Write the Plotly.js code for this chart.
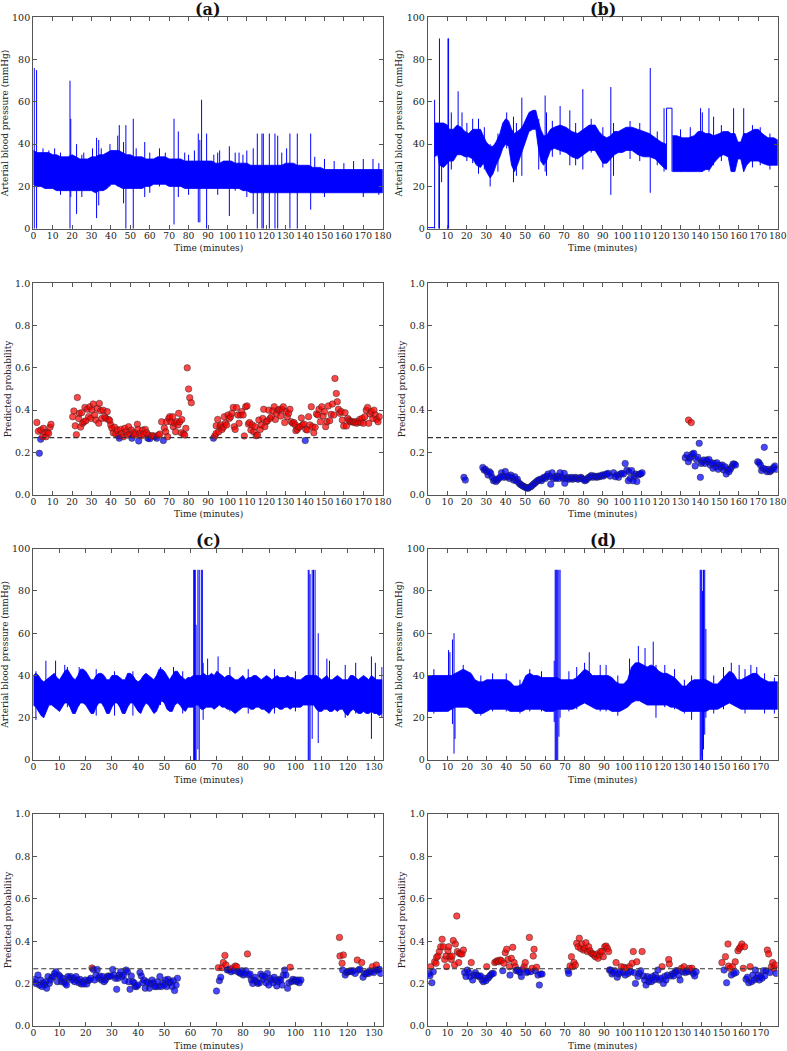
<!DOCTYPE html>
<html><head><meta charset="utf-8">
<script src="https://cdn.plot.ly/plotly-3.0.1.min.js"></script>
<style>html,body{margin:0;padding:0;background:#fff}#chart{width:787px;height:1051px}</style>
</head><body><div id="chart"></div>
<script>
// ---------------- DATA ----------------
const THRESH = 0.27;
const panelTitles = ["(a)", "(b)", "(c)", "(d)"];
const xTitle = "Time (minutes)";
const yTitleABP = "Arterial blood pressure (mmHg)";
const yTitleProb = "Predicted probability";
const xRangeA = 180, xRangeB = 180, xRangeC = 133.3, xRangeD = 178.7;

// ABP envelope, panel (a)
const tA = [0,2,4,6,8,10,12,14,16,18,20,22,24,26,28,30,32,34,36,38,40,42,44,46,48,50,52,54,56,58,60,62,64,66,68,70,72,74,76,78,80,82,84,86,88,90,92,94,96,98,100,102,104,106,108,110,112,114,116,118,120,122,124,126,128,130,132,134,136,138,140,142,144,146,148,150,152,154,156,158,160,162,164,166,168,170,172,174,176,178,180];
const hiA = [37,36,36,36,36,35,35,34,34,34,35,34,33,33,33,34,34,35,35,36,37,37,37,36,35,35,34,34,34,33,33,33,34,34,34,33,33,33,33,32,32,32,32,32,32,32,32,31,31,32,32,32,31,31,31,31,30,30,30,30,30,30,30,30,30,31,31,31,30,30,30,30,29,29,29,28,28,28,28,28,28,28,28,28,28,28,28,28,28,28,28];
const loA = [21,20,20,19,19,19,18,18,18,18,18,18,18,18,18,18,17,18,18,19,21,21,20,19,19,19,19,19,19,20,20,21,21,21,21,20,20,20,20,19,19,19,19,19,19,19,19,19,19,19,19,19,19,19,18,18,17,17,17,17,17,17,17,17,17,17,17,17,17,17,17,17,17,17,17,17,17,17,17,17,17,17,17,17,17,17,17,17,17,17,17];
const spikeA = [[0.5,76,0],[1.7,75,0],[5,38,25],[8,37,25],[11,38,19],[14,36,16],[18.9,70,0],[19.3,52,15],[22.3,40,7],[25,35,15],[26,36,25],[30.5,38,20],[32.6,43,5],[33.7,42,11],[35,38,25],[39.5,40,20],[43.5,44,20],[44.3,49,20],[46.5,41,12],[47.7,49,0],[51.5,52,0],[53,38,25],[57.4,41,15],[60,36,17],[65,38,20],[68,36,25],[72.5,52,2],[74.7,46,15],[78,36,25],[80,35,16],[83,37,25],[85,45,3],[85.8,42,3],[86.7,61,22],[89.3,45,0],[93,35,25],[95,36,16],[96,37,25],[101,39,6],[104,36,18],[106,36,25],[108,35,25],[110,37,15],[113.3,38,7],[115.4,45,0],[117.8,45,0],[118.5,45,0],[121.6,45,0],[124.5,45,0],[125.9,44,0],[128,36,25],[130.5,38,18],[132.2,45,0],[136,45,0],[142.9,45,9],[145,34,22],[150,33,15],[155,32,22],[160,31,17],[165,32,22],[170,33,15],[175,33,22],[178,31,16]];
const flatA = [];

// ABP envelope, panel (b)
const tB  = [3.3,5,6,8,10,11,13,15,17,19,21,23,25,27,28.5,30,32,33.5,35,37,38.5,40,41.5,43,44.5,46,47.5,49,50.5,52,54,55.5,56.5,58,59.5,61,63,65,68,71,74,77,80,83,86,88,90,92,94,96,98,100,102,105,108,111,114,117,120,122.5,null,125.8,128,131,134,137,139,141,143,145,147,150,152,154.5,156,158,159.5,161,162.5,164,166,168,170,172,175,178,180];
const hiB = [50,50,50,50,49,47,47,49,48,46,45,47,47,47,44,41,39,39,41,45,50,52,51,47,45,46,47,49,52,55,56,56,52,47,44,44,47,48,49,48,46,45,47,49,49,46,44,43,44,46,46,47,48,48,47,46,45,43,41,40,null,44,44,43,43,44,46,46,45,45,44,45,46,46,45,45,41,41,45,45,46,47,47,45,43,43,42];
const loB = [34,35,30,29,31,32,32,35,35,34,34,33,30,29,31,27,24,26,30,34,38,40,39,30,27,30,33,38,42,46,47,47,40,32,30,32,37,38,37,36,34,33,35,37,37,34,31,31,33,35,36,36,37,37,35,34,34,33,30,28,null,27,27,27,27,27,27,27,28,28,31,34,35,34,27,27,33,33,27,30,32,32,32,31,30,30,30];
const spikeB = [[3.4,61,0],[5.6,45,0],[5.9,90,0],[7,40,22],[10.3,90,0],[10.6,90,0],[12,55,28],[15.5,65,35],[17.5,55,35],[20,50,32],[23,52,31],[26,52,26],[29,48,28],[32,40,20],[36,45,27],[40.5,55,38],[44,53,22],[45.5,50,25],[48.3,62,25],[57,52,28],[60.3,63,27],[61,55,25],[64,51,34],[68,58,35],[73,56,30],[76,50,30],[79.7,66,28],[84,52,36],[90,48,29],[94.1,67,16],[95.5,50,25],[104,51,33],[109,50,32],[114.4,76,17],[118,46,30],[121.5,57,27],[122.8,57,28],[125.6,57,27],[130,47,27],[135,48,27],[140.3,57,27],[141.2,55,27],[144.6,57,27],[147,53,30],[151,49,32],[157.3,57,27],[162.5,57,27],[167,49,29],[171,48,30],[176,45,28]];
const flatB = [[0,3.4,0.5],[122.8,125.6,57]];

// ABP envelope, panel (c)
const tC = [];
for (let i = 0; i <= 133; i++) tC.push(i);
const hiC = [40,41,40,38,37,38,39,40,41,39,38,40,42,43,41,39,38,40,43,43,42,40,38,38,40,41,41,40,38,38,40,40,40,39,38,38,41,41,40,38,37,38,40,41,40,39,38,40,43,43,42,40,38,40,42,42,40,39,38,39,39,40,40,40,40,41,40,40,41,40,42,41,40,39,40,40,39,38,38,39,40,38,39,39,40,40,39,38,39,40,39,38,39,40,39,39,39,40,39,39,38,38,38,39,40,40,40,40,40,39,38,39,40,38,38,39,40,39,38,38,38,40,40,39,38,39,40,39,38,40,39,38,38,38];
const loC = [26,25,23,21,20,23,26,26,25,24,23,25,27,27,25,22,22,25,27,27,26,24,22,22,25,27,27,25,22,22,25,27,27,25,22,22,25,27,27,25,23,22,25,27,26,24,22,23,26,28,27,24,23,23,26,27,26,24,23,25,25,25,26,26,24,24,25,25,25,24,25,26,25,25,24,24,23,22,23,24,25,25,25,24,24,25,25,24,24,23,22,24,25,25,24,24,25,25,24,25,25,25,25,26,26,26,26,26,24,23,23,24,24,23,23,24,23,24,24,22,21,23,24,23,22,22,23,22,22,23,22,22,21,22];
const spikeC = [[1,42,19],[4.8,47,24],[8.5,47,25],[12,45,27],[13,44,25],[17.5,44,26],[24,43,21],[31,42,21],[38,42,21],[48.5,44,26],[53.5,44,26],[57,42,22],[61.2,90,0],[61.5,90,0],[61.8,90,0],[62.1,64,0],[62.8,90,5],[63.3,90,0],[64.1,90,30],[64.5,90,40],[64.8,46,19],[66.5,48,28],[70.5,49,28],[75,44,23],[82,43,22],[92,43,22],[100,42,23],[104.9,90,0],[105.2,90,0],[105.6,88,0],[106.4,90,10],[106.9,90,30],[107.5,90,40],[108.7,60,8],[112,48,25],[113,47,25],[119,45,20],[123,46,22],[129,49,10],[130.5,46,22],[133,44,20]];
const flatC = [];

// ABP envelope, panel (d)
const tD = [0,2,4,6,8,10,12,14,16,18,20,22,24,26,28,30,32,34,36,38,40,42,44,46,48,50,52,54,56,58,60,62,64,66,68,70,72,74,76,78,80,82,84,86,88,90,92,94,96,98,100,102,104,106,108,110,112,114,116,118,120,122,124,126,128,130,132,134,136,138,140,142,144,146,148,150,152,154,156,158,160,162,164,166,168,170,172,174,176,178,178.7];
const hiD = [40,40,40,40,40,40,40,41,42,43,42,41,38,37,37,38,38,38,38,38,38,37,35,35,36,40,41,40,40,39,39,39,39,39,38,38,38,38,39,41,43,42,40,40,40,40,40,39,37,36,36,38,44,46,46,45,44,45,44,42,41,41,40,39,37,35,35,37,38,38,38,38,37,36,36,38,40,42,41,38,38,39,40,41,41,39,38,37,37,37,37];
const loD = [23,23,23,23,23,23,24,25,25,25,25,24,22,22,22,23,24,24,24,24,24,23,23,23,23,24,24,24,24,24,23,23,23,24,24,24,24,24,25,26,27,26,25,24,24,24,24,23,23,23,24,25,27,28,28,27,26,26,26,26,26,26,25,25,24,23,23,23,23,23,23,23,24,24,24,25,26,27,26,25,24,24,24,24,24,24,24,24,24,24,24];
const spikeD = [[3,43,22],[10.5,52,23],[11.2,51,25],[12.5,57,17],[13.3,60,3],[13.8,40,10],[18,45,25],[27,40,21],[33,41,23],[40,41,23],[47,38,22],[52,43,23],[58,42,23],[64.5,47,18],[65,90,0],[65.4,90,0],[65.8,90,0],[66.3,90,0],[66.9,90,11],[67.5,90,20],[72,42,23],[76,44,24],[80,46,27],[82.4,51,27],[88,45,23],[91,45,23],[97,40,21],[103,48,27],[107.5,54,28],[110.9,53,27],[115.1,56,27],[116.5,45,20],[121,45,25],[126,43,24],[131,38,22],[134.7,40,19],[139.1,90,0],[139.5,90,0],[139.9,90,0],[140.3,80,0],[140.8,90,5],[141.4,90,12],[142,62,20],[146,40,22],[151,44,24],[155,46,27],[159,45,25],[162,43,22],[165,45,26],[168,44,26],[172,41,22],[177,39,22]];
const flatD = [];

// Predicted probability, panel (a)
const probTA = [1.8,2.6,3.1,3.8,3.8,4.8,5.2,6.0,6.5,7.2,7.9,8.6,9.1,20.3,20.9,21.6,22.2,22.7,23.4,23.7,24.4,24.9,25.4,26.1,26.6,27.1,27.8,28.5,29.2,29.6,30.2,30.9,31.6,32.2,33.0,33.7,34.0,34.7,35.3,36.0,36.8,37.4,38.1,38.8,39.4,39.9,40.5,41.2,41.9,42.5,43.3,44.0,44.3,45.0,45.6,46.4,47.1,47.7,48.4,49.1,49.7,50.5,50.8,51.5,52.2,52.8,53.6,53.9,54.3,54.9,55.6,56.3,57.0,57.7,58.4,59.0,59.4,60.0,61.0,61.8,62.6,63.6,64.4,65.2,66.1,67.0,67.5,68.2,68.7,69.2,69.8,70.3,70.9,71.8,72.1,72.8,73.3,73.9,74.5,74.9,75.5,76.2,76.5,77.3,78.0,78.6,79.3,80.0,80.6,81.4,
 92.8,93.5,94.2,94.2,95.0,95.5,96.2,96.7,97.2,97.9,98.4,98.9,99.6,100.3,101.0,101.6,102.3,103.0,103.5,104.0,104.7,105.4,106.0,106.7,107.4,108.1,108.7,109.4,110.1,110.8,111.4,112.1,112.8,113.5,114.2,114.8,115.5,116.2,116.9,117.5,118.2,118.7,119.3,120.0,120.6,121.3,122.0,122.7,123.4,124.1,124.7,125.4,126.1,126.8,127.5,128.1,128.8,129.5,130.2,130.9,131.5,132.2,132.9,133.6,134.3,135.0,135.3,136.0,136.7,137.4,138.1,138.7,139.4,140.1,140.4,141.1,141.8,142.5,143.2,143.8,144.5,145.2,145.9,146.6,147.2,147.9,148.6,149.3,150.0,150.6,151.3,152.0,152.7,153.4,154.1,154.8,155.4,156.1,156.6,157.2,157.9,158.6,159.2,159.9,160.6,161.3,162.0,162.6,163.3,164.0,164.7,165.4,166.0,166.7,167.4,168.1,168.8,169.4,170.1,170.8,171.5,172.2,172.8,173.5,174.2,174.9,175.5,176.2,176.9,177.6,178.3];
const probVA = [.342,.300,.196,.262,.306,.274,.314,.293,.274,.295,.290,.319,.333,.369,.396,.326,.284,.460,.360,.385,.320,.388,.338,.345,.413,.350,.404,.369,.416,.361,.400,.429,.377,.353,.408,.338,.432,.397,.361,.400,.369,.361,.393,.356,.350,.330,.314,.293,.319,.287,.306,.278,.267,.309,.290,.274,.314,.298,.282,.322,.287,.306,.267,.293,.282,.290,.333,.309,.254,.290,.278,.306,.287,.309,.293,.267,.282,.265,.278,.279,.274,.267,.282,.287,.345,.256,.315,.298,.345,.274,.361,.369,.345,.369,.322,.338,.298,.345,.330,.385,.345,.293,.356,.287,.282,.314,.600,.500,.459,.435,
 .267,.278,.290,.326,.356,.298,.322,.330,.309,.319,.369,.338,.330,.377,.361,.369,.385,.413,.322,.309,.412,.377,.338,.377,.393,.377,.278,.416,.420,.334,.341,.306,.330,.298,.322,.279,.282,.353,.309,.330,.361,.404,.322,.345,.350,.400,.361,.369,.397,.416,.356,.385,.400,.404,.372,.404,.416,.341,.393,.369,.385,.404,.345,.338,.341,.330,.303,.309,.319,.322,.363,.330,.334,.256,.309,.306,.369,.330,.416,.322,.293,.319,.382,.377,.404,.345,.416,.372,.393,.322,.345,.420,.350,.380,.429,.377,.550,.479,.440,.404,.385,.393,.353,.325,.388,.325,.361,.353,.345,.345,.345,.341,.345,.338,.345,.356,.341,.361,.338,.369,.400,.413,.338,.382,.393,.361,.400,.377,.356,.345,.369];

// Predicted probability, panel (b)
const probTB = [18.5,19.2,28.2,28.9,29.5,30.2,30.9,31.6,32.3,33.0,33.7,34.3,35.0,35.7,36.4,37.1,37.8,38.5,39.2,39.8,40.5,41.2,41.9,42.6,43.3,44.0,44.7,45.3,46.0,46.7,47.4,48.1,48.8,49.5,50.1,50.8,51.5,52.2,52.9,53.6,54.3,54.9,55.6,56.3,57.0,57.7,58.4,59.1,59.7,60.4,61.1,61.8,62.5,63.2,63.9,64.5,65.2,65.9,66.6,67.3,68.0,68.7,69.4,70.1,70.4,71.1,71.8,72.5,73.2,73.9,74.5,75.2,75.9,76.6,77.3,78.0,78.7,79.3,80.0,80.7,81.4,82.1,82.8,83.5,84.1,84.8,85.5,86.2,86.9,87.6,88.3,88.9,89.6,90.3,91.0,92.0,92.7,93.8,95.5,96.4,97.2,98.1,99.0,99.8,100.6,101.5,102.4,103.1,103.4,104.1,104.8,105.5,106.1,106.8,107.5,108.2,108.9,109.5,110.2,
 132.4,133.3,134.0,134.1,134.7,135.4,135.5,136.1,136.8,137.5,138.2,138.9,139.6,140.2,140.6,141.2,141.9,142.6,143.3,144.0,144.6,145.3,146.0,146.7,147.4,148.1,148.7,149.4,150.1,150.8,151.5,152.2,152.9,153.5,154.2,154.9,155.6,156.3,157.0,157.7,158.3,
 169.7,170.4,171.1,171.7,172.4,173.1,173.8,174.5,175.2,175.9,176.6,177.2,177.9,178.6,179.3];
const probVB = [.082,.069,.129,.117,.120,.110,.093,.109,.101,.082,.066,.073,.062,.069,.077,.082,.104,.088,.082,.110,.085,.088,.077,.093,.082,.069,.085,.066,.073,.057,.050,.046,.041,.038,.035,.032,.030,.035,.038,.044,.050,.054,.060,.066,.069,.073,.066,.077,.082,.077,.088,.098,.085,.050,.104,.077,.085,.077,.088,.077,.104,.085,.077,.101,.054,.077,.082,.073,.077,.082,.073,.077,.082,.077,.073,.079,.082,.077,.073,.066,.069,.077,.082,.085,.091,.082,.088,.085,.082,.088,.085,.088,.093,.088,.095,.098,.101,.088,.104,.085,.093,.082,.098,.101,.098,.148,.117,.066,.109,.077,.114,.066,.088,.098,.062,.093,.098,.098,.104,
 .175,.188,.156,.353,.172,.180,.341,.192,.196,.136,.167,.177,.243,.082,.148,.156,.164,.148,.164,.156,.167,.140,.151,.125,.148,.132,.151,.120,.140,.129,.140,.117,.132,.098,.120,.109,.120,.132,.145,.145,.140,
 .156,.151,.140,.114,.125,.224,.120,.109,.120,.109,.114,.120,.129,.136,.120];

// Predicted probability, panel (c)
const probTC = [0.0,0.5,1.0,1.8,2.3,2.8,3.3,3.8,4.3,4.8,5.1,5.6,6.1,6.6,7.1,7.6,8.1,8.7,9.2,9.7,10.2,10.7,11.2,11.7,12.2,12.7,13.2,13.7,14.2,14.8,15.3,15.8,16.3,16.8,17.3,17.8,18.3,18.8,19.3,19.8,20.4,20.9,21.4,21.9,22.4,22.9,23.4,23.9,24.4,24.9,25.4,26.0,26.5,27.0,27.5,28.0,28.5,29.0,29.5,30.3,30.8,31.3,31.8,32.3,32.8,33.3,33.8,34.4,34.9,35.4,35.9,36.4,36.9,37.4,37.9,38.4,38.9,39.4,39.9,40.7,41.2,41.7,42.2,42.7,43.3,43.8,44.3,44.8,45.3,45.8,46.3,46.8,47.3,47.8,48.3,48.9,49.4,49.9,50.4,50.9,51.4,51.9,52.4,52.9,53.4,53.9,54.5,55.0,
 69.9,70.6,71.0,71.5,72.0,72.5,73.1,73.5,74.0,74.5,75.0,75.5,76.0,76.6,77.1,77.6,78.1,78.6,79.1,79.6,80.1,80.6,81.1,81.7,82.2,82.7,83.2,83.7,84.2,84.7,85.2,85.7,86.3,86.8,87.3,87.8,88.3,88.8,89.3,89.8,90.3,90.8,91.4,91.9,92.4,92.9,93.4,93.9,94.4,94.9,95.4,95.9,96.4,97.0,97.5,98.0,98.5,99.0,99.5,100.0,100.5,101.0,101.5,102.1,
 116.8,117.0,117.8,118.3,118.0,119.0,119.5,120.0,120.5,121.0,121.5,122.0,122.8,123.6,124.1,124.6,125.3,125.8,126.3,126.8,127.4,127.9,128.4,128.9,129.4,129.9,130.4,130.9,131.4,132.0,132.5];
const probVC = [.209,.220,.201,.240,.193,.217,.186,.204,.193,.209,.178,.233,.201,.217,.230,.233,.248,.256,.209,.240,.233,.209,.225,.209,.201,.193,.233,.225,.233,.217,.225,.209,.233,.217,.204,.220,.198,.209,.198,.217,.198,.214,.217,.225,.274,.267,.217,.240,.267,.225,.236,.217,.233,.209,.217,.230,.236,.233,.236,.267,.240,.225,.173,.225,.240,.256,.233,.240,.214,.264,.256,.209,.173,.236,.209,.204,.186,.186,.193,.252,.236,.204,.217,.178,.209,.204,.178,.198,.217,.204,.186,.186,.209,.186,.233,.186,.204,.193,.217,.186,.220,.204,.209,.186,.214,.167,.193,.225,
 .165,.275,.214,.230,.275,.300,.333,.288,.264,.265,.267,.256,.274,.261,.283,.280,.256,.252,.248,.261,.240,.248,.261,.340,.240,.245,.217,.201,.217,.230,.209,.201,.204,.245,.236,.220,.233,.204,.248,.193,.225,.217,.204,.230,.217,.189,.209,.220,.217,.193,.240,.264,.240,.178,.204,.277,.209,.220,.214,.217,.209,.217,.204,.217,
 .418,.330,.296,.335,.264,.240,.252,.256,.256,.261,.256,.261,.248,.311,.264,.268,.299,.230,.248,.245,.252,.248,.261,.256,.280,.252,.264,.288,.264,.268,.248];

// Predicted probability, panel (d)
const probTD = [0.7,1.0,1.4,2.0,2.7,3.4,4.1,4.4,5.1,5.8,6.5,7.2,7.8,8.5,9.2,9.5,10.2,10.6,11.2,11.9,12.3,12.9,13.6,14.0,14.7,15.0,15.7,16.0,16.7,17.4,18.1,18.7,19.4,20.1,20.8,21.5,22.1,22.8,23.5,24.2,24.9,25.6,26.2,26.9,27.6,28.3,29.0,29.6,30.0,30.7,31.3,32.0,32.7,33.4,34.1,34.8,35.4,36.1,36.8,37.5,38.2,38.8,39.5,40.2,40.9,41.6,41.9,42.6,43.3,44.0,44.6,45.0,45.7,46.3,47.0,47.7,48.4,49.1,49.7,50.4,51.1,51.8,52.5,53.2,53.8,54.2,54.9,55.5,56.2,56.9,57.6,58.3,
 71.6,71.9,72.6,73.3,73.9,74.6,75.3,76.0,76.7,77.3,78.0,78.7,79.4,80.1,80.7,81.4,82.1,82.8,83.5,84.2,84.8,85.5,86.2,86.9,87.6,88.2,88.9,89.6,90.3,91.0,91.7,92.3,92.7,
 93.3,94.0,94.7,95.4,96.1,96.7,97.4,98.1,98.8,99.5,100.2,100.8,101.5,102.2,102.9,103.6,104.3,104.9,105.3,106.0,106.7,107.3,108.0,108.7,109.4,110.1,110.7,111.4,112.1,112.8,113.4,114.1,114.8,115.5,116.2,116.8,117.5,118.2,118.9,119.6,120.3,120.9,121.6,122.3,123.0,123.3,124.0,124.7,125.4,126.1,126.7,127.4,128.1,128.8,129.5,130.2,130.8,131.5,132.2,132.9,133.6,134.2,134.9,135.6,136.3,137.0,
 150.2,151.3,152.0,152.6,153.3,153.6,154.3,155.0,155.6,156.3,157.0,157.4,158.4,159.1,159.8,160.4,161.1,161.8,162.5,163.2,163.9,164.6,165.3,166.0,166.6,167.3,168.0,168.7,169.3,170.0,170.7,171.4,172.1,172.7,173.4,174.1,174.8,175.5,176.1,176.8,177.5,177.9];
const probVD = [.248,.237,.280,.204,.256,.303,.296,.324,.330,.351,.374,.409,.374,.314,.330,.280,.355,.374,.327,.314,.330,.403,.288,.387,.519,.351,.299,.343,.340,.340,.358,.252,.233,.264,.252,.233,.299,.217,.240,.252,.240,.236,.233,.236,.217,.209,.225,.214,.280,.225,.233,.240,.248,.248,.299,.303,.308,.303,.311,.308,.261,.296,.346,.362,.314,.280,.240,.319,.371,.299,.280,.261,.264,.261,.252,.233,.267,.280,.299,.252,.256,.418,.256,.272,.330,.362,.261,.277,.240,.193,.245,.245,
 .261,.248,.283,.327,.280,.299,.288,.390,.374,.414,.366,.387,.358,.366,.393,.351,.374,.355,.343,.340,.335,.327,.340,.319,.335,.351,.351,.327,.374,.377,.366,.351,.264,
 .264,.245,.252,.261,.299,.230,.245,.256,.280,.252,.277,.240,.272,.248,.280,.256,.296,.351,.252,.201,.303,.233,.248,.261,.351,.236,.217,.193,.233,.209,.225,.209,.233,.217,.240,.225,.264,.217,.225,.280,.201,.233,.217,.240,.314,.292,.236,.245,.236,.252,.261,.261,.240,.217,.272,.256,.280,.252,.261,.256,.272,.261,.272,.248,.236,.256,
 .299,.264,.327,.204,.387,.283,.272,.240,.280,.248,.303,.252,.355,.366,.374,.387,.272,.374,.220,.230,.204,.280,.209,.240,.217,.264,.225,.240,.217,.233,.225,.261,.236,.261,.358,.340,.252,.280,.299,.272,.288,.248];

// ---------------- BUILD ----------------
const FONT = "DejaVu Serif, Liberation Serif, serif";
const AX = "#555";
const TXT = "#222";
const colDom = [[33.3/787, 382.7/787], [428/787, 777.7/787]];
const H = 1051;
const rowPx = [[17.3, 228.7], [283.3, 494.7], [548.7, 760], [814, 1026]];
const rowDom = rowPx.map(r => [1 - r[1]/H, 1 - r[0]/H]);

function bandTrace(t, hi, lo, n) {
  const xs = [], ys = [];
  let seg = [];
  const flush = () => {
    if (seg.length) {
      seg.forEach(i => { xs.push(t[i]); ys.push(hi[i]); });
      seg.slice().reverse().forEach(i => { xs.push(t[i]); ys.push(lo[i]); });
      xs.push(null); ys.push(null);
    }
    seg = [];
  };
  for (let i = 0; i < t.length; i++) { if (t[i] === null) flush(); else seg.push(i); }
  flush();
  return {type: "scatter", mode: "lines", x: xs, y: ys, fill: "toself", fillcolor: "#0000ff",
          line: {color: "#0000ff", width: 0.8}, connectgaps: false, hoverinfo: "skip",
          xaxis: "x" + (n === 1 ? "" : n), yaxis: "y" + (n === 1 ? "" : n), showlegend: false};
}
function spikeTrace(sp, fl, n) {
  const xs = [], ys = [];
  sp.forEach(s => { xs.push(s[0], s[0], null); ys.push(s[2], s[1], null); });
  fl.forEach(f => { xs.push(f[0], f[1], null); ys.push(f[2], f[2], null); });
  return {type: "scatter", mode: "lines", x: xs, y: ys, line: {color: "#0000ff", width: 1},
          connectgaps: false, hoverinfo: "skip",
          xaxis: "x" + (n === 1 ? "" : n), yaxis: "y" + (n === 1 ? "" : n), showlegend: false};
}
function probTrace(t, v, n) {
  return {type: "scatter", mode: "markers", x: t, y: v,
          marker: {size: 6.5, color: v.map(p => p > THRESH ? "rgba(255,0,0,0.72)" : "rgba(0,0,255,0.72)"),
                   line: {color: "rgba(40,40,40,0.8)", width: 0.6}},
          xaxis: "x" + n, yaxis: "y" + n, showlegend: false, hoverinfo: "skip"};
}

const data = [
  bandTrace(tA, hiA, loA, 1), spikeTrace(spikeA, flatA, 1),
  bandTrace(tB, hiB, loB, 2), spikeTrace(spikeB, flatB, 2),
  probTrace(probTA, probVA, 3), probTrace(probTB, probVB, 4),
  bandTrace(tC, hiC, loC, 5), spikeTrace(spikeC, flatC, 5),
  bandTrace(tD, hiD, loD, 6), spikeTrace(spikeD, flatD, 6),
  probTrace(probTC, probVC, 7), probTrace(probTD, probVD, 8)
];

const layout = {
  width: 787, height: 1051, margin: {l: 0, r: 0, t: 0, b: 0},
  paper_bgcolor: "#fff", plot_bgcolor: "#fff", showlegend: false,
  font: {family: FONT, size: 9, color: TXT},
  annotations: [], shapes: []
};
const xr = [xRangeA, xRangeB, xRangeA, xRangeB, xRangeC, xRangeD, xRangeC, xRangeD];
for (let n = 1; n <= 8; n++) {
  const col = (n - 1) % 2, row = Math.floor((n - 1) / 2);
  const isProb = row % 2 === 1;
  const sfx = n === 1 ? "" : String(n);
  layout["xaxis" + sfx] = {
    domain: colDom[col], anchor: "y" + sfx, range: [0, xr[n - 1]], tick0: 0, dtick: 10,
    showgrid: false, zeroline: false, showline: true, linecolor: AX, linewidth: 1.2, mirror: "ticks",
    ticks: "inside", ticklen: 4, tickcolor: AX, tickwidth: 1, tickangle: 0, ticklabelstandoff: -2,
    tickfont: {family: FONT, size: 9.2, color: TXT}
  };
  layout["yaxis" + sfx] = {
    domain: rowDom[row], anchor: "x" + sfx, range: isProb ? [0, 1] : [0, 100], tick0: 0,
    dtick: isProb ? 0.2 : 20, tickformat: isProb ? ".1f" : "d",
    showgrid: false, zeroline: false, showline: true, linecolor: AX, linewidth: 1.2, mirror: "ticks",
    ticks: "inside", ticklen: 4, tickcolor: AX, tickwidth: 1, tickfont: {family: FONT, size: 9.5, color: TXT},
    title: {text: isProb ? yTitleProb : yTitleABP, font: {family: FONT, size: 9, color: TXT}, standoff: 2}
  };
  layout.annotations.push({text: xTitle, xref: "paper", yref: "paper",
    x: (colDom[col][0] + colDom[col][1]) / 2, y: 1 - (rowPx[row][1] + 19.5) / H,
    xanchor: "center", yanchor: "middle", showarrow: false,
    font: {family: FONT, size: 9, color: TXT}});
  if (isProb) {
    layout.shapes.push({type: "line", xref: "x" + sfx + " domain", yref: "y" + sfx, x0: 0, x1: 1,
      y0: THRESH, y1: THRESH, line: {color: "#333", width: 1.2, dash: "5px,3px"}});
  } else {
    const idx = (row === 0 ? 0 : 2) + col;
    layout.annotations.push({text: "<b>" + panelTitles[idx] + "</b>", xref: "paper", yref: "paper",
      x: (colDom[col][0] + colDom[col][1]) / 2, y: 1 - (rowPx[row][0] - 8) / H,
      xanchor: "center", yanchor: "middle", showarrow: false,
      font: {family: FONT, size: 16, color: "#111"}});
  }
}
Plotly.newPlot("chart", data, layout, {displayModeBar: false, staticPlot: true});
</script></body></html>
